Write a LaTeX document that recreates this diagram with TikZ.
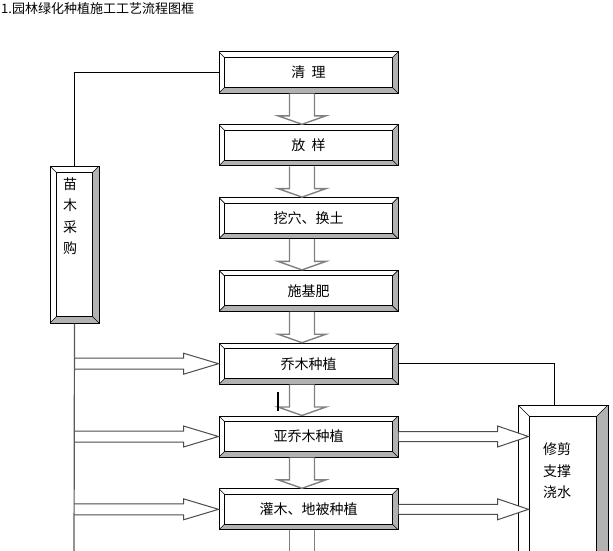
\documentclass[tikz,border=0pt]{standalone}
\usepackage{fontspec}
\newfontfamily\cjk{Noto Sans CJK SC}
\usetikzlibrary{calc}

\tikzset{
  bevelw/.store in=\bevelw, bevelw=5.5pt,
  bevelbox/.style={draw, line width=1pt, fill=white, inner sep=0pt,
    minimum width=179pt, minimum height=41pt,
    font=\cjk\fontsize{14pt}{16pt}\selectfont,
    path picture={
      \coordinate (bb1) at (path picture bounding box.south west);
      \coordinate (bb2) at (path picture bounding box.north east);
      \coordinate (ib1) at ($(bb1)+(\bevelw,\bevelw)$);
      \coordinate (ib2) at ($(bb2)-(\bevelw,\bevelw)$);
      \fill[gray!60] (bb2) -- (bb2 |- bb1) -- (bb1) -- (ib1) -- (ib2 |- ib1) -- (ib2) -- cycle;
      \draw[line width=1pt] (ib1) rectangle (ib2);
      \draw[line width=0.6pt] (bb1) -- (ib1) (bb2) -- (ib2)
        (bb1 |- bb2) -- (ib1 |- ib2) (bb2 |- bb1) -- (ib2 |- ib1);
    }},
  fatarrow/.style={draw=gray, line width=1.4pt, fill=white},
  sidearrow/.style={draw=gray!60!black, line width=1pt, fill=white},
  link/.style={line width=0.8pt},
  boxtext/.style={font=\cjk\fontsize{14pt}{21.5pt}\selectfont, align=center, inner sep=0pt, anchor=north},
}

% block arrow pointing down, from one box to the next
\newcommand\fatdown[2]{%
  \draw[fatarrow] ($(#1)+(-19,0)$) -- ($(#2)+(-19,-8.5)$) -- ($(#2)+(-30.5,-8.5)$)
    -- ($(#2)+(-6.5,0)$) -- ($(#2)+(17.5,-8.5)$) -- ($(#2)+(6,-8.5)$) -- ($(#1)+(6,0)$);}
% block arrow pointing right: start, tip, shaft half width, head half width, head length
\newcommand\fatright[5]{%
  \draw[sidearrow] ($(#1)+(0,-#3)$) -- ($(#2)+(-#5,-#3)$) -- ($(#2)+(-#5,-#4)$) -- (#2)
    -- ($(#2)+(-#5,#4)$) -- ($(#2)+(-#5,#3)$) -- ($(#1)+(0,#3)$);}

\begin{document}
\begin{tikzpicture}[x=1pt, y=-1pt]
  \clip (0,0) rectangle (613,551);

  % Title
  \node[anchor=west, inner sep=0pt, font=\cjk\fontsize{13pt}{15pt}\selectfont] (title) at (1,9) {1.园林绿化种植施工工艺流程图框};

  % Nodes
  \node[bevelbox] (clean) at (308.5,72.5) {清\hspace{0.45em}理};
  \node[bevelbox] (layout) at (308.5,145.3) {放\hspace{0.45em}样};
  \node[bevelbox] (pit) at (308.5,218.1) {挖穴、换土};
  \node[bevelbox] (fert) at (308.5,290.9) {施基肥};
  \node[bevelbox] (tree) at (308.5,363.7) {乔木种植};
  \node[bevelbox] (subtree) at (308.5,436.5) {亚乔木种植};
  \node[bevelbox] (shrub) at (308.5,509.3) {灌木、地被种植};

  \node[bevelbox, bevelw=6.5pt, minimum width=49pt, minimum height=157pt,
    label={[boxtext, xshift=-4.5pt, yshift=-12pt]north:苗\\木\\采\\购}] (buy) at (74.5,244.5) {};
  \node[bevelbox, bevelw=11.5pt, minimum width=90pt, minimum height=180pt,
    label={[boxtext, xshift=-6pt, yshift=-38pt]north:修剪\\支撑\\浇水}] (care) at (563,495) {};

  \coordinate (trunktop) at (74,72.5);
  \coordinate (trunkbot) at (74,560);
  \coordinate (shrubout) at (308.5,560);
  \coordinate (tip1) at ($(care.west |- subtree.east)+(11,0)$);
  \coordinate (tip2) at ($(care.west |- shrub.east)+(11,0)$);

  % Edges
  \fatdown{clean.south}{layout.north}
  \fatdown{layout.south}{pit.north}
  \fatdown{pit.south}{fert.north}
  \fatdown{fert.south}{tree.north}
  \fatdown{tree.south}{subtree.north}
  \fatdown{subtree.south}{shrub.north}
  \draw[fatarrow] ($(shrub.south)+(-19,0)$) -- ($(shrubout)+(-19,0)$);
  \draw[fatarrow] ($(shrub.south)+(6,0)$) -- ($(shrubout)+(6,0)$);

  \fatright{trunktop |- tree.west}{tree.west}{5.5}{10.5}{35}
  \fatright{trunktop |- subtree.west}{subtree.west}{5.5}{10.5}{35}
  \fatright{trunktop |- shrub.west}{shrub.west}{5.5}{10.5}{35}
  \fatright{subtree.east}{tip1}{5}{10.5}{31}
  \fatright{shrub.east}{tip2}{5}{10.5}{31}

  \draw[link] (clean.west) -- (trunktop) -- (trunktop |- buy.north);
  \draw[link, draw=gray!70!black, line width=1.2pt] (buy.south) -- (trunkbot);
  \draw[link] (tree.east) -| ($(care.north)+(-9,0)$);

  % cursor mark
  \draw[line width=1.3pt] (278,392) -- (278,411);
\end{tikzpicture}
\end{document}
